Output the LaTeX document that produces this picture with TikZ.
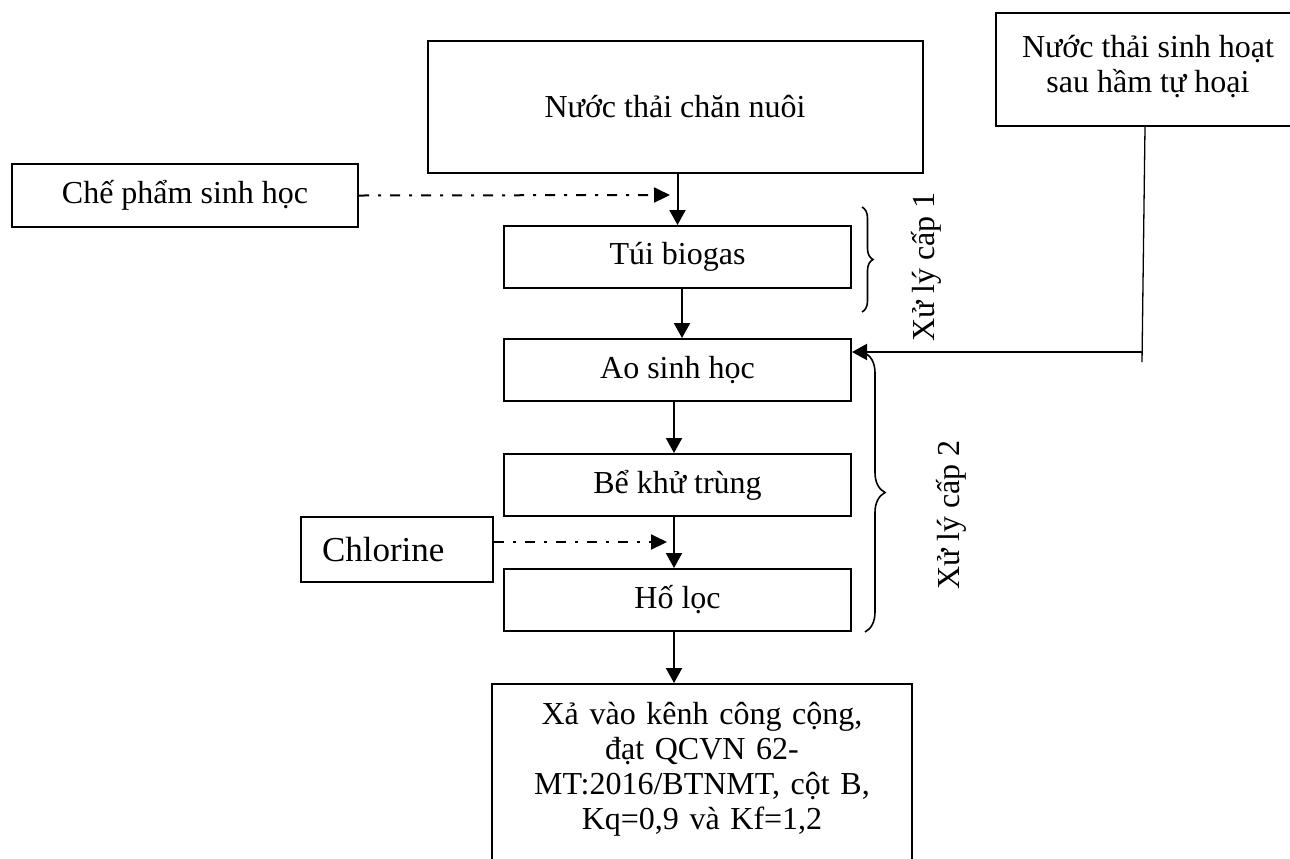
\documentclass[tikz,border=0pt]{standalone}
\usepackage{fontspec}
\setmainfont{Liberation Serif}
\usetikzlibrary{arrows.meta,decorations.pathreplacing,calc}
\begin{document}
\begin{tikzpicture}[x=0.5pt,y=-0.5pt,
  box/.style={draw,line width=1pt,inner sep=0pt,font=\fontsize{16}{17.5}\selectfont,align=center},
  arr/.style={line width=1pt,-{Triangle[length=7.5pt,width=8pt]}},
  dd/.style={line width=1pt,dash pattern=on 5pt off 4.5pt on 1.5pt off 4.5pt,-{Triangle[length=8pt,width=7.5pt]}},
  thinl/.style={line width=0.65pt},
  brc/.style={decorate,line width=0.8pt},
  lbl/.style={rotate=90,font=\fontsize{16}{17.5}\selectfont,inner sep=0pt}]
\path[use as bounding box,fill=white] (0,0) rectangle (1290,858);

\node[box,minimum width=247.5pt,minimum height=66pt] (A) at (675,107) {Nước thải chăn nuôi};
\node[box,minimum width=152pt,minimum height=56.5pt] (B) at (1148,69.5) {Nước thải sinh hoạt\\sau hầm tự hoại\rule[-6pt]{0pt}{0pt}};
\node[box,minimum width=173pt,minimum height=31.5pt] (C) at (185,195.5) {Chế phẩm sinh học};
\node[box,minimum width=173.5pt,minimum height=31pt] (D) at (677.5,257) {Túi biogas};
\node[box,minimum width=173.5pt,minimum height=31pt] (E) at (677.5,370) {Ao sinh học};
\node[box,minimum width=173.5pt,minimum height=31pt] (F) at (677.5,485) {Bể khử trùng};
\node[box,minimum width=173.5pt,minimum height=31pt] (G) at (677.5,600) {Hố lọc};
\node[box,font=\fontsize{17.5}{20}\selectfont,text width=75pt,align=left,inner xsep=10.5pt,minimum height=32.5pt] (H) at (397,549.5) {Chlorine};
\node[box,anchor=north,text width=200pt,inner xsep=5pt,inner ysep=9pt] (I) at (702,683) {Xả vào kênh công cộng,\\đạt QCVN 62-\\MT:2016/BTNMT, cột B,\\Kq=0,9 và Kf=1,2\rule[-30pt]{0pt}{0pt}};

% braces and labels
\draw[brc,decoration={brace,amplitude=5.5pt}] (862,207) -- (862,312);
\draw[brc,decoration={brace,amplitude=10pt}] (865,353) -- (865,632);
\node[lbl] (L1) at (926,267) {Xử lý cấp 1};
\node[lbl] (L2) at (951,515) {Xử lý cấp 2};

% connectors
\coordinate (c1) at (670,195);
\coordinate (h1) at (667,542);
\coordinate (b2) at (1142,362);
\coordinate (bj) at (1142,352);
\draw[arr] (A.south -| D.north) -- (D.north);
\draw[dd] (C.east) -- (c1);
\draw[arr] ([xshift=2.25pt]D.south) -- ([xshift=2.25pt]D.south |- E.north);
\draw[arr] ([xshift=-1.75pt]E.south) -- ([xshift=-1.75pt]E.south |- F.north);
\draw[arr] ([xshift=-1.75pt]F.south) -- ([xshift=-1.75pt]F.south |- G.north);
\draw[dd] (H.east |- h1) -- (h1);
\draw[arr] ([xshift=-1.75pt]G.south) -- ([xshift=-1.75pt]G.south |- I.north);
\draw[thinl] ([xshift=-1.5pt]B.south) -- (b2);
\draw[arr] (bj) -- (bj -| E.east);
\end{tikzpicture}
\end{document}
